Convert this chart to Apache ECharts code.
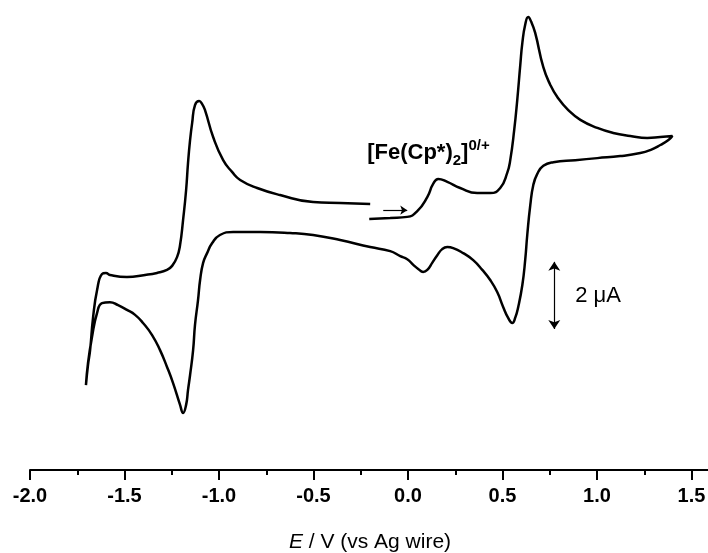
<!DOCTYPE html>
<html>
<head>
<meta charset="utf-8">
<script src="https://cdn.jsdelivr.net/npm/echarts@6/dist/echarts.min.js"></script>
<style>
  html, body { margin: 0; padding: 0; background: #fff; }
  #chart { width: 708px; height: 553px; }
</style>
</head>
<body>
<div id="chart"></div>
<script>
// cyclic voltammogram, potential E in V (vs Ag wire), current I in uA
// forward scan -0.2 V -> 1.4 V
const fwdE = [-0.205, -0.094, -0.004, 0.049, 0.102, 0.133, 0.160, 0.208, 0.276, 0.366,
  0.435, 0.488, 0.525, 0.541, 0.562, 0.578, 0.594, 0.605, 0.620, 0.636,
  0.652, 0.673, 0.716, 0.753, 0.790, 0.848, 0.912, 1.002, 1.086, 1.176,
  1.266, 1.335, 1.399];
const fwdI = [-0.52, -0.49, -0.46, -0.29, 0.13, 0.52, 0.67, 0.58, 0.40, 0.25,
  0.25, 0.40, 0.85, 1.23, 2.13, 3.02, 4.06, 4.72, 5.26, 5.49,
  5.35, 5.02, 4.00, 3.47, 3.11, 2.72, 2.43, 2.19, 2.04, 1.95,
  1.89, 1.92, 1.95];
// reverse scan 1.4 V -> -1.7 V
const revE = [1.378, 1.335, 1.282, 1.229, 1.123, 1.002, 0.885, 0.769, 0.716, 0.684,
  0.663, 0.647, 0.631, 0.620, 0.605, 0.583, 0.567, 0.552, 0.530, 0.504,
  0.472, 0.435, 0.393, 0.345, 0.292, 0.239, 0.208, 0.181, 0.155, 0.128,
  0.102, 0.080, 0.054, 0.028, -0.004, -0.041, -0.094, -0.200, -0.359, -0.502,
  -0.624, -0.782, -0.925, -0.995, -1.036, -1.063, -1.084, -1.100, -1.111, -1.127,
  -1.137, -1.153, -1.164, -1.174, -1.190, -1.206, -1.243, -1.275, -1.312, -1.354,
  -1.402, -1.444, -1.487, -1.534, -1.577, -1.619, -1.645, -1.672, -1.693, -1.704];
const revI = [1.83, 1.68, 1.53, 1.44, 1.35, 1.29, 1.23, 1.17, 1.06, 0.82,
  0.49, -0.11, -1.00, -1.75, -2.49, -3.15, -3.47, -3.62, -3.47, -3.15,
  -2.70, -2.34, -2.04, -1.75, -1.54, -1.39, -1.36, -1.42, -1.60, -1.83,
  -2.04, -2.10, -2.01, -1.89, -1.72, -1.63, -1.48, -1.36, -1.15, -1.00,
  -0.94, -0.91, -0.91, -1.00, -1.24, -1.54, -1.83, -2.34, -2.94, -3.68,
  -4.43, -5.17, -5.62, -6.06, -6.30, -6.06, -5.41, -4.93, -4.43, -3.98,
  -3.62, -3.38, -3.23, -3.09, -3.00, -3.03, -3.32, -4.04, -4.81, -5.47];
// back from -1.7 V to -0.2 V
const retE = [-1.693, -1.682, -1.666, -1.645, -1.619, -1.598, -1.577, -1.487, -1.391, -1.328,
  -1.275, -1.248, -1.222, -1.206, -1.190, -1.174, -1.164, -1.153, -1.142, -1.127,
  -1.105, -1.089, -1.074, -1.031, -0.978, -0.931, -0.888, -0.798, -0.677, -0.502,
  -0.359, -0.200];
const retI = [-4.87, -4.43, -3.44, -2.64, -2.16, -2.13, -2.19, -2.25, -2.19, -2.13,
  -2.04, -1.92, -1.66, -1.30, -0.55, 0.34, 1.14, 1.83, 2.34, 2.87,
  2.99, 2.90, 2.72, 1.92, 1.23, 0.88, 0.64, 0.40, 0.19, -0.02,
  -0.05, -0.08];

const xTicks = [-2.0, -1.5, -1.0, -0.5, 0.0, 0.5, 1.0, 1.5];

// scan direction arrow and 2 uA scale bar (data units)
const scanArrow = [[-0.131, -0.26], [-0.004, -0.26]];
const scaleBar = [[0.774, -1.80], [0.774, -3.80]];
const speciesPos = [-0.216, 1.44];
const scalePos = [0.885, -2.82];

const loop = [];
fwdE.forEach((e, i) => loop.push([e, fwdI[i]]));
revE.forEach((e, i) => loop.push([e, revI[i]]));
retE.forEach((e, i) => loop.push([e, retI[i]]));

const chart = echarts.init(document.getElementById("chart"));

const option = {
  animation: false,
  backgroundColor: "#fff",
  // axis runs past the right edge, like the original figure
  grid: { left: 30, top: 0, width: 756, height: 470, outerBoundsMode: "none", containLabel: false },
  xAxis: {
    type: "value",
    min: -2,
    max: 2,
    interval: 0.5,
    name: "{i|E} / V (vs Ag wire)",
    nameLocation: "middle",
    nameGap: 62,
    nameTextStyle: {
      fontFamily: "Liberation Sans",
      fontSize: 21,
      color: "#000",
      padding: [0, 76, 0, 0],
      rich: { i: { fontStyle: "italic", fontFamily: "Liberation Sans", fontSize: 21, color: "#000" } },
    },
    axisLine: { onZero: false, lineStyle: { color: "#000", width: 2 } },
    axisTick: { length: 10, lineStyle: { color: "#000", width: 2 } },
    minorTick: { show: true, splitNumber: 2, length: 5, lineStyle: { color: "#000", width: 2 } },
    splitLine: { show: false },
    axisLabel: {
      margin: 16,
      fontFamily: "Liberation Sans",
      fontWeight: "bold",
      fontSize: 20,
      color: "#000",
      formatter: (v) => (xTicks.includes(v) ? v.toFixed(1) : ""),
    },
  },
  yAxis: { type: "value", min: -8, max: 6, show: false },
  series: [
    {
      type: "line",
      data: loop,
      showSymbol: false,
      smooth: 0.5,
      clip: false,
      lineStyle: { color: "#000", width: 2.5 },
      markLine: {
        silent: true,
        symbolSize: 9,
        label: { show: false },
        lineStyle: { color: "#000", width: 1.2, type: "solid" },
        data: [
          [
            { coord: scanArrow[0], symbol: "none" },
            { coord: scanArrow[1], symbol: "arrow", symbolSize: 7 },
          ],
          [
            { coord: scaleBar[0], symbol: "arrow" },
            { coord: scaleBar[1], symbol: "arrow" },
          ],
        ],
      },
      markPoint: {
        silent: true,
        symbolSize: 0,
        data: [
          {
            coord: speciesPos,
            label: {
              show: true,
              position: "right",
              distance: 0,
              color: "#000",
              formatter: () => "{m|[Fe(Cp*)}{sub|2}{m|]}{sup|0/+}",
              rich: {
                m: { fontFamily: "Liberation Sans", fontWeight: "bold", fontSize: 22, lineHeight: 30, color: "#000" },
                sub: { fontFamily: "Liberation Sans", fontWeight: "bold", fontSize: 15, verticalAlign: "bottom", color: "#000" },
                sup: { fontFamily: "Liberation Sans", fontWeight: "bold", fontSize: 15, verticalAlign: "top", color: "#000" },
              },
            },
          },
          {
            coord: scalePos,
            label: {
              show: true,
              position: "right",
              distance: 0,
              color: "#000",
              fontFamily: "Liberation Sans",
              fontSize: 22,
              formatter: () => "2 μA",
            },
          },
        ],
      },
    },
  ],
};

chart.setOption(option);
</script>
</body>
</html>
